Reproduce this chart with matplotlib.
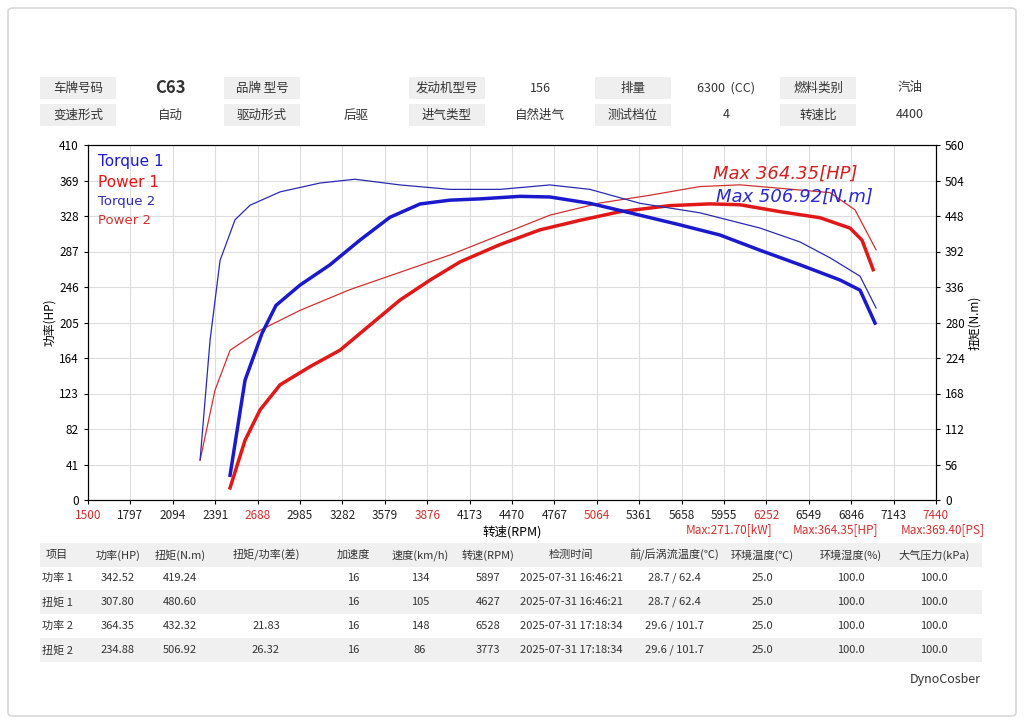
import matplotlib
matplotlib.use("Agg")
import matplotlib.pyplot as plt
from matplotlib.patches import Rectangle, FancyBboxPatch
import numpy as np

plt.rcParams['font.family'] = ['Noto Sans CJK SC', 'DejaVu Sans']

x_ticks = [1500,1797,2094,2391,2688,2985,3282,3579,3876,4173,4470,4767,5064,5361,5658,5955,6252,6549,6846,7143,7440]
hp_ticks = [0,41,82,123,164,205,246,287,328,369,410]
nm_ticks = [0,56,112,168,224,280,336,392,448,504,560]

t1_rpm = [2495,2600,2719,2817,2985,3195,3405,3615,3826,4036,4246,4526,4736,5016,5297,5647,5927,6207,6488,6768,6908,7013]
t1_val = [39,189,263,307,339,371,410,446,467,473,475,479,478,468,453,434,418,394,371,347,331,279]
t2_rpm = [2285,2355,2425,2530,2635,2845,3125,3370,3686,4036,4386,4736,5016,5367,5787,6207,6488,6698,6908,7020]
t2_val = [63,252,378,442,465,486,500,506,497,490,490,497,490,468,453,429,407,382,353,303]
p1_rpm = [2495,2600,2705,2845,3055,3265,3475,3686,3896,4106,4386,4666,4946,5227,5577,5857,6067,6348,6628,6838,6922,7000]
p1_val = [14,69,104,133,154,173,202,231,254,275,295,312,323,333,340,342,341,333,326,314,300,266]
p2_rpm = [2285,2390,2495,2705,2985,3335,3686,4036,4386,4736,5086,5437,5787,6067,6488,6698,6873,7020]
p2_val = [46,127,173,196,219,243,263,283,306,329,343,352,362,364,358,355,335,289]

top_rows = [["车牌号码","C63","品牌 型号","","发动机型号","156","排量","6300  (CC)","燃料类别","汽油"],
            ["变速形式","自动","驱动形式","后驱","进气类型","自然进气","测试档位","4","转速比","4400"]]
tbl_header = ["项目","功率(HP)","扭矩(N.m)","扭矩/功率(差)","加速度","速度(km/h)","转速(RPM)","检测时间","前/后涡流温度(℃)","环境温度(℃)","环境湿度(%)","大气压力(kPa)"]
tbl_rows = [["功率 1","342.52","419.24","","16","134","5897","2025-07-31 16:46:21","28.7 / 62.4","25.0","100.0","100.0"],
            ["扭矩 1","307.80","480.60","","16","105","4627","2025-07-31 16:46:21","28.7 / 62.4","25.0","100.0","100.0"],
            ["功率 2","364.35","432.32","21.83","16","148","6528","2025-07-31 17:18:34","29.6 / 101.7","25.0","100.0","100.0"],
            ["扭矩 2","234.88","506.92","26.32","16","86","3773","2025-07-31 17:18:34","29.6 / 101.7","25.0","100.0","100.0"]]

W, H = 1024, 724
fig = plt.figure(figsize=(W/100, H/100), dpi=100)
fig.patches.append(FancyBboxPatch((8/W, 8/H), 1008/W, 708/H, boxstyle="round,pad=0,rounding_size=0.005",
                                  transform=fig.transFigure, fc='none', ec='#d8d8d8', lw=1.2))

def fx(px): return px / W
def fy(py): return 1 - py / H

# top info table
col_x = [78,170,262,356,447,540,633,726,818,910]
for r, row in enumerate(top_rows):
    yc = 88 + r*27
    for c, txt in enumerate(row):
        if c % 2 == 0:
            fig.patches.append(Rectangle((fx(col_x[c]-38), fy(yc+11)), 76/W, 22/H, transform=fig.transFigure, fc='#efefef', ec='none'))
        kw = dict(fontsize=12, fontweight='bold') if txt == "C63" else dict(fontsize=9)
        fig.text(fx(col_x[c]), fy(yc), txt, ha='center', va='center', color='#333333', **kw)

ax = fig.add_axes([fx(88), fy(500), (936-88)/W, (500-145)/H])
ax2 = ax.twinx()
ax.set_xlim(1500, 7440); ax.set_ylim(0, 410); ax2.set_ylim(0, 560)
ax.set_xticks(x_ticks); ax.set_yticks(hp_ticks); ax2.set_yticks(nm_ticks)
ax.set_xticklabels([str(v) for v in x_ticks], fontsize=8.5)
for i, lab in enumerate(ax.get_xticklabels()):
    lab.set_color('#d03030' if i % 4 == 0 else '#222222')
ax.tick_params(axis='y', labelsize=8.5, length=3)
ax2.tick_params(axis='y', labelsize=8.5, length=3)
ax.tick_params(axis='x', length=3)
ax.grid(True, color='#dddddd', lw=0.8)
ax.set_ylabel("功率(HP)", fontsize=8.5, labelpad=2)
ax2.set_ylabel("扭矩(N.m)", fontsize=8.5, labelpad=2)
ax.set_xlabel("转速(RPM)", fontsize=9, labelpad=2)

ax2.plot(t1_rpm, t1_val, color='#1a1acc', lw=2.5)
ax2.plot(t2_rpm, t2_val, color='#2a2ab0', lw=0.9)
ax.plot(p1_rpm, p1_val, color='#e01818', lw=2.5)
ax.plot(p2_rpm, p2_val, color='#d03030', lw=0.9)

ax.text(0.012, 0.975, "Torque 1", transform=ax.transAxes, color='#1a1acc', fontsize=11, va='top', family=['DejaVu Sans'])
ax.text(0.012, 0.915, "Power 1", transform=ax.transAxes, color='#e01818', fontsize=11, va='top', family=['DejaVu Sans'])
ax.text(0.012, 0.860, "Torque 2", transform=ax.transAxes, color='#2a2ab0', fontsize=9.5, va='top', family=['DejaVu Sans'])
ax.text(0.012, 0.805, "Power 2", transform=ax.transAxes, color='#d03030', fontsize=9.5, va='top', family=['DejaVu Sans'])
ax.text(0.907, 0.945, "Max 364.35[HP]", transform=ax.transAxes, color='#d02020', fontsize=13, style='italic', ha='right', va='top', family=['DejaVu Sans'])
ax.text(0.925, 0.880, "Max 506.92[N.m]", transform=ax.transAxes, color='#2a2ad0', fontsize=13, style='italic', ha='right', va='top', family=['DejaVu Sans'])

for xp, t in [(772, "Max:271.70[kW]"), (878, "Max:364.35[HP]"), (985, "Max:369.40[PS]")]:
    fig.text(fx(xp), fy(530), t, color='#d03030', fontsize=8.5, ha='right', va='center')

# bottom table
tcols = [57,118,180,266,353,420,488,571,674,762,851,934]
fig.patches.append(Rectangle((fx(40), fy(567)), 942/W, 24/H, transform=fig.transFigure, fc='#f0f0f0', ec='none'))
for c, t in enumerate(tbl_header):
    fig.text(fx(tcols[c]), fy(555), t, ha='center', va='center', fontsize=8, color='#333333')
for r, row in enumerate(tbl_rows):
    yc = 578 + r*24
    if r % 2 == 1:
        fig.patches.append(Rectangle((fx(40), fy(yc+12)), 942/W, 24/H, transform=fig.transFigure, fc='#f0f0f0', ec='none'))
    for c, t in enumerate(row):
        fig.text(fx(tcols[c]), fy(yc), t, ha='center', va='center', fontsize=8, color='#333333')

fig.text(fx(981), fy(680), "DynoCosber", ha='right', va='center', fontsize=9, color='#333333')

fig.savefig("out.png", dpi=100)
